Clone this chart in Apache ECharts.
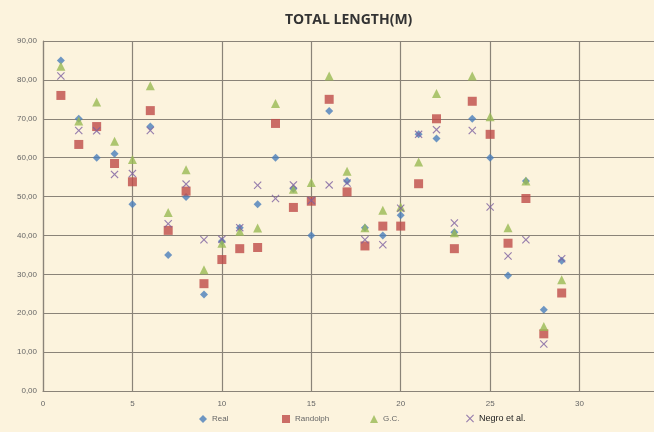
<!DOCTYPE html>
<html>
<head>
<meta charset="utf-8">
<script src="https://cdn.jsdelivr.net/npm/echarts@6/dist/echarts.min.js"></script>
<style>
  html, body { margin: 0; padding: 0; background: #fcf3dd; }
  #chart { width: 654px; height: 432px; }
</style>
</head>
<body>
<div id="chart"></div>
<script>
// x = sample number 1..29
var samples = [1, 2, 3, 4, 5, 6, 7, 8, 9, 10, 11, 12, 13, 14, 15, 16, 17, 18, 19, 20, 21, 22, 23, 24, 25, 26, 27, 28, 29]
var real = [85, 70, 60, 61, 48, 68, 35, 49.9, 24.8, 38.5, 42, 48, 60, 52, 40, 72, 54, 42, 40, 45.2, 66, 64.9, 40.8, 70, 60, 29.7, 54, 20.9, 33.5]
var randolph = [76, 63.4, 68, 58.5, 53.8, 72.1, 41.3, 51.4, 27.6, 33.8, 36.6, 36.9, 68.8, 47.2, 48.8, 75, 51.2, 37.3, 42.4, 42.4, 53.3, 70, 36.6, 74.5, 66, 38, 49.5, 14.7, 25.2]
var gc = [83.5, 69.4, 74.3, 64.2, 59.5, 78.5, 45.9, 56.9, 31.2, 38, 41.1, 41.9, 73.9, 51.9, 53.6, 81, 56.5, 42, 46.5, 47.3, 58.9, 76.5, 40.7, 81, 70.5, 42, 54, 16.6, 28.6]
var negro = [81, 67, 66.9, 55.7, 55.9, 67, 43, 53.2, 38.9, 39, 42, 52.9, 49.5, 53, 49, 53, 53.5, 38.9, 37.6, 47, 66, 67.2, 43.2, 67, 47.3, 34.7, 38.9, 12.1, 34]

var crossPath = 'path://M0,1 L1,0 L5,4 L9,0 L10,1 L6,5 L10,9 L9,10 L5,6 L1,10 L0,9 L4,5 Z'

function pairs(vals) {
  return samples.map(function (x, i) { return [x, vals[i]] })
}

// one legend per entry so each sits where the original has it
function legendAt(name, left, textStyle) {
  return {
    bottom: 4,
    left: left,
    itemWidth: 8,
    itemHeight: 8,
    itemGap: 4,
    textStyle: textStyle || { fontSize: 8, color: '#666', fontFamily: 'Liberation Sans' },
    data: [name]
  }
}

var myChart = echarts.init(document.getElementById('chart'))
myChart.setOption({
  backgroundColor: '#fcf3dd',
  animation: false,
  title: {
    text: 'TOTAL LENGTH(M)',
    left: 280,
    top: 8,
    textStyle: {
      fontFamily: 'Open Sans',
      fontWeight: 'bold',
      fontSize: 14,
      color: '#333'
    }
  },
  legend: [
    legendAt('Real', 194),
    legendAt('Randolph', 277),
    legendAt('G.C.', 365),
    legendAt('Negro et al.', 461, { fontSize: 9, color: '#222', fontFamily: 'Liberation Sans' })
  ],
  grid: {
    left: 43,
    top: 41,
    width: 626,
    height: 350,
    outerBoundsMode: 'none'
  },
  xAxis: {
    type: 'value',
    min: 0,
    max: 35,
    interval: 5,
    axisLine: { show: true, lineStyle: { color: '#8a8378', width: 1.2 } },
    axisTick: { show: false },
    axisLabel: { fontSize: 8, color: '#666', margin: 9 },
    splitLine: { show: true, lineStyle: { color: '#8a8378', width: 1.2 } }
  },
  yAxis: {
    type: 'value',
    min: 0,
    max: 90,
    interval: 10,
    axisLine: { show: true, lineStyle: { color: '#8a8378', width: 1.2 } },
    axisTick: { show: false },
    axisLabel: {
      fontSize: 8,
      color: '#666',
      margin: 6,
      formatter: function (v) { return v.toFixed(2).replace('.', ',') }
    },
    splitLine: { show: true, lineStyle: { color: '#8a8378', width: 1.2 } }
  },
  series: [
    {
      name: 'Real',
      type: 'scatter',
      symbol: 'diamond',
      symbolSize: 8,
      itemStyle: { color: '#4a7ebb' },
      data: pairs(real)
    },
    {
      name: 'Randolph',
      type: 'scatter',
      symbol: 'rect',
      symbolSize: 9,
      itemStyle: { color: '#be4b48' },
      data: pairs(randolph)
    },
    {
      name: 'G.C.',
      type: 'scatter',
      symbol: 'triangle',
      symbolSize: 9,
      itemStyle: { color: '#98b954' },
      data: pairs(gc)
    },
    {
      name: 'Negro et al.',
      type: 'scatter',
      symbol: crossPath,
      symbolSize: 8,
      itemStyle: { color: '#7d60a0' },
      data: pairs(negro)
    }
  ]
})
</script>
</body>
</html>
